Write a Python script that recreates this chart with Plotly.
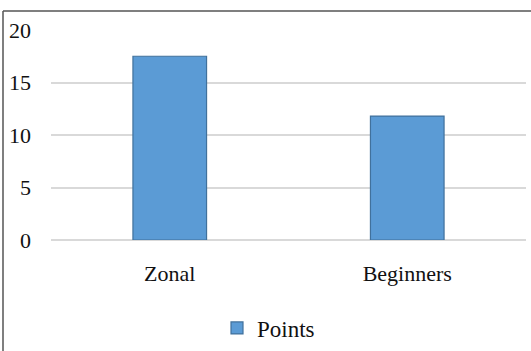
import plotly.graph_objects as go

categories = ["Zonal", "Beginners"]
points = [17.5, 11.8]
y_ticks = [0, 5, 10, 15, 20]

serif = "Liberation Serif, Times New Roman, serif"
text_color = "#111111"

fig = go.Figure()
fig.add_trace(go.Bar(
    x=categories,
    y=points,
    name="Points",
    marker=dict(color="#5B9BD5", line=dict(color="#41719C", width=1.2)),
    width=0.31,
))

fig.update_layout(
    width=531,
    height=351,
    margin=dict(l=51, r=5, t=30, b=111, autoexpand=False),
    paper_bgcolor="white",
    plot_bgcolor="white",
    font=dict(family=serif, size=22, color=text_color),
    showlegend=True,
    legend=dict(
        orientation="h",
        x=0.5 - 20 / 475, xanchor="center",
        y=-88 / 210, yanchor="middle",
        font=dict(family=serif, size=23, color=text_color),
        itemwidth=30,
    ),
    xaxis=dict(
        showline=False,
        showgrid=False,
        ticks="",
        ticklabelstandoff=18,
        tickfont=dict(family=serif, size=22),
    ),
    yaxis=dict(
        range=[0, 20],
        tickvals=y_ticks,
        showgrid=True,
        gridcolor="#d9d9d9",
        gridwidth=2,
        zeroline=True,
        zerolinecolor="#d9d9d9",
        zerolinewidth=2,
        showline=False,
        ticks="",
        ticklabelstandoff=19,
        tickfont=dict(family=serif, size=22),
    ),
)

# Outer frame: only the top and left edges fall inside the page
frame = dict(color="#555555", width=1.5)
fig.add_shape(type="line", xref="paper", yref="paper",
              x0=-48 / 475, x1=480 / 475, y0=1 + 19 / 210, y1=1 + 19 / 210,
              line=frame, layer="above")
fig.add_shape(type="line", xref="paper", yref="paper",
              x0=-48 / 475, x1=-48 / 475, y0=1 + 19 / 210, y1=-120 / 210,
              line=frame, layer="above")

fig.write_html("out.html")
